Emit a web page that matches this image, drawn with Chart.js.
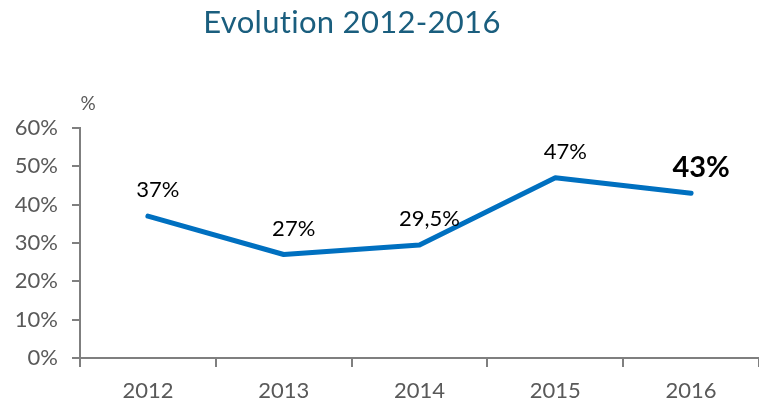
<!DOCTYPE html>
<html>
<head>
<meta charset="utf-8">
<script src="https://cdn.jsdelivr.net/npm/chart.js@4/dist/chart.umd.min.js"></script>
<style>
  html, body { margin: 0; padding: 0; background: #fff; }
  #wrap { width: 759px; height: 403px; }
</style>
</head>
<body>
<div id="wrap"><canvas id="chart" width="759" height="403"></canvas></div>
<script>
// 데이터
const years = ["2012", "2013", "2014", "2015", "2016"];
const values = [37, 27, 29.5, 47, 43];
const pointLabels = ["37%", "27%", "29,5%", "47%", "43%"];
const yTicks = [0, 10, 20, 30, 40, 50, 60];

const axisGray = "#7f7f7f";
const textGray = "#595959";
const lineBlue = "#0070c0";

// 제목, % 표시, 값 라벨 그리기
const labelPlugin = {
  id: "labelPlugin",
  afterDatasetsDraw(chart) {
    const ctx = chart.ctx;
    const area = chart.chartArea;
    ctx.save();
    ctx.textAlign = "center";
    ctx.textBaseline = "middle";

    ctx.fillStyle = "#1a5e7e";
    ctx.font = "31px Lato";
    ctx.letterSpacing = "0.3px"; // ti 합자 방지
    ctx.fillText("Evolution 2012-2016", 352, 23);
    ctx.letterSpacing = "0px";

    ctx.fillStyle = textGray;
    ctx.font = "19px Lato";
    ctx.fillText("%", area.left + 8, area.top - 24);

    const meta = chart.getDatasetMeta(0);
    meta.data.forEach((pt, i) => {
      const last = i === meta.data.length - 1;
      ctx.fillStyle = "#000";
      ctx.font = last ? "bold 29px Lato" : "22px Lato";
      ctx.fillText(pointLabels[i], pt.x + 10, pt.y - 26);
    });
    ctx.restore();
  },
};

new Chart(document.getElementById("chart"), {
  type: "line",
  data: {
    labels: years,
    datasets: [
      {
        data: values,
        borderColor: lineBlue,
        borderWidth: 5,
        borderCapStyle: "round",
        borderJoinStyle: "round",
        pointRadius: 0,
        tension: 0,
        fill: false,
      },
    ],
  },
  options: {
    responsive: false,
    animation: false,
    layout: { padding: { top: 128, right: 0, left: 0, bottom: 0 } },
    plugins: {
      legend: { display: false },
      tooltip: { enabled: false },
      title: { display: false },
    },
    scales: {
      x: {
        offset: true,
        grid: {
          offset: true,
          drawOnChartArea: false,
          drawTicks: true,
          tickLength: 9,
          color: axisGray,
          lineWidth: 2,
        },
        border: { color: axisGray, width: 2 },
        ticks: {
          color: textGray,
          font: { family: "Lato", size: 22 },
          padding: 11,
          maxRotation: 0,
        },
        afterFit(scale) {
          scale.height = 45;
        },
      },
      y: {
        min: 0,
        max: 60,
        afterBuildTicks(scale) {
          scale.ticks = yTicks.map((v) => ({ value: v }));
        },
        grid: {
          drawOnChartArea: false,
          drawTicks: true,
          tickLength: 8,
          color: axisGray,
          lineWidth: 2,
        },
        border: { color: axisGray, width: 2 },
        ticks: {
          color: textGray,
          font: { family: "Lato", size: 22 },
          padding: 14,
          callback: (v) => v + "%",
        },
        afterFit(scale) {
          scale.width = 80;
        },
      },
    },
  },
  plugins: [labelPlugin],
});
</script>
</body>
</html>
